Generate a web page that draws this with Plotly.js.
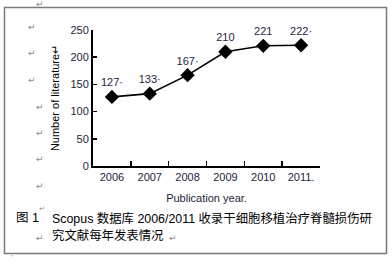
<!DOCTYPE html>
<html><head><meta charset="utf-8">
<script src="https://cdn.plot.ly/plotly-3.0.1.min.js"></script>
<style>html,body{margin:0;padding:0;background:#fff}#chart{width:392px;height:262px}</style>
</head><body><div id="chart"></div>
<script>
// Data
const years = ["2006", "2007", "2008", "2009", "2010", "2011."];
const counts = [127, 133, 167, 210, 221, 222];
const pointLabels = ["127·", "133·", "167·", "210", "221", "222·"];
const yTickVals = [0, 50, 100, 150, 200, 250];
const yTickText = ["0", "50", "100", "150", "200", "250"];
const xTitle = "Publication year.";
const yTitle = "Number of literature↵";
const captionNo = "图 1";
const captionLine1 = "Scopus 数据库 2006/2011 收录干细胞移植治疗脊髓损伤研";
const captionLine2 = "究文献每年发表情况";

const W = 392, H = 262;
const M = {l: 93, r: 72, t: 30, b: 96};
const PW = W - M.l - M.r, PH = H - M.t - M.b;
const px = x => (x - M.l) / PW;
const py = y => (H - M.b - y) / PH;

const font = "Liberation Sans, Arial, Noto Sans CJK SC, sans-serif";
const txt = "#1e1e3c";
const markCol = "#8a8a8a";

const marks = [[40,4],[32,27],[32,53],[32,80],[40,107],[40,133],[40,159],[40,186],[40,238],[173,238]];
const annotations = marks.map(([x,y]) => ({
  xref: "paper", yref: "paper", x: px(x), y: py(y), text: "↵", showarrow: false,
  xanchor: "center", yanchor: "middle", font: {family: "DejaVu Sans", size: 9, color: markCol}
}));
annotations.push({xref:"paper", yref:"paper", x: px(42), y: py(209), text: "↵", showarrow:false,
  xanchor:"center", yanchor:"middle", font:{family:"DejaVu Sans", size:7, color:markCol}});
annotations.push({xref:"paper", yref:"paper", x: px(12), y: py(257), text: "'", showarrow:false,
  xanchor:"center", yanchor:"middle", font:{family:font, size:8, color:markCol}});
annotations.push({xref:"paper", yref:"paper", x: px(14), y: py(218), text: captionNo, showarrow:false,
  xanchor:"left", yanchor:"middle", font:{family:font, size:12.5, color:"#000"}});
annotations.push({xref:"paper", yref:"paper", x: px(50), y: py(218), text: captionLine1, showarrow:false,
  xanchor:"left", yanchor:"middle", font:{family:font, size:12.4, color:"#000"}});
annotations.push({xref:"paper", yref:"paper", x: px(50), y: py(235), text: captionLine2, showarrow:false,
  xanchor:"left", yanchor:"middle", font:{family:font, size:12.4, color:"#000"}});

const trace = {
  x: years, y: counts, type: "scatter", mode: "lines+markers+text",
  text: pointLabels, textposition: "top center",
  textfont: {family: font, size: 11, color: txt},
  line: {color: "#000", width: 1.6},
  marker: {symbol: "diamond", size: 11, color: "#000"},
  cliponaxis: false, hoverinfo: "skip"
};

const layout = {
  width: W, height: H, margin: M, showlegend: false,
  paper_bgcolor: "#fff", plot_bgcolor: "#fff",
  font: {family: font, size: 11, color: txt},
  xaxis: {
    type: "category", range: [-0.5, 5.5], tickson: "boundaries",
    ticks: "inside", ticklen: 5, tickwidth: 1.5, tickcolor: "#000",
    showline: true, linecolor: "#000", linewidth: 2, showgrid: false, zeroline: false,
    tickfont: {family: font, size: 11, color: txt},
    title: {text: xTitle, standoff: 12, font: {family: font, size: 11, color: txt}}
  },
  yaxis: {
    range: [0, 250], tickvals: yTickVals, ticktext: yTickText,
    ticks: "inside", ticklen: 4, tickwidth: 1.5, tickcolor: "#000",
    showline: true, linecolor: "#000", linewidth: 2, showgrid: false, zeroline: false,
    tickfont: {family: font, size: 11, color: txt},
    title: {text: yTitle, standoff: 9, font: {family: font, size: 11, color: "#000"}}
  },
  shapes: [{type: "rect", xref: "paper", yref: "paper",
    x0: px(4.5), x1: px(386.5), y0: py(253.5), y1: py(7.5),
    line: {color: "#7a7a7a", width: 1.5}, fillcolor: "rgba(0,0,0,0)"}],
  annotations: annotations
};

Plotly.newPlot("chart", [trace], layout, {staticPlot: true, displayModeBar: false});
</script></body></html>
